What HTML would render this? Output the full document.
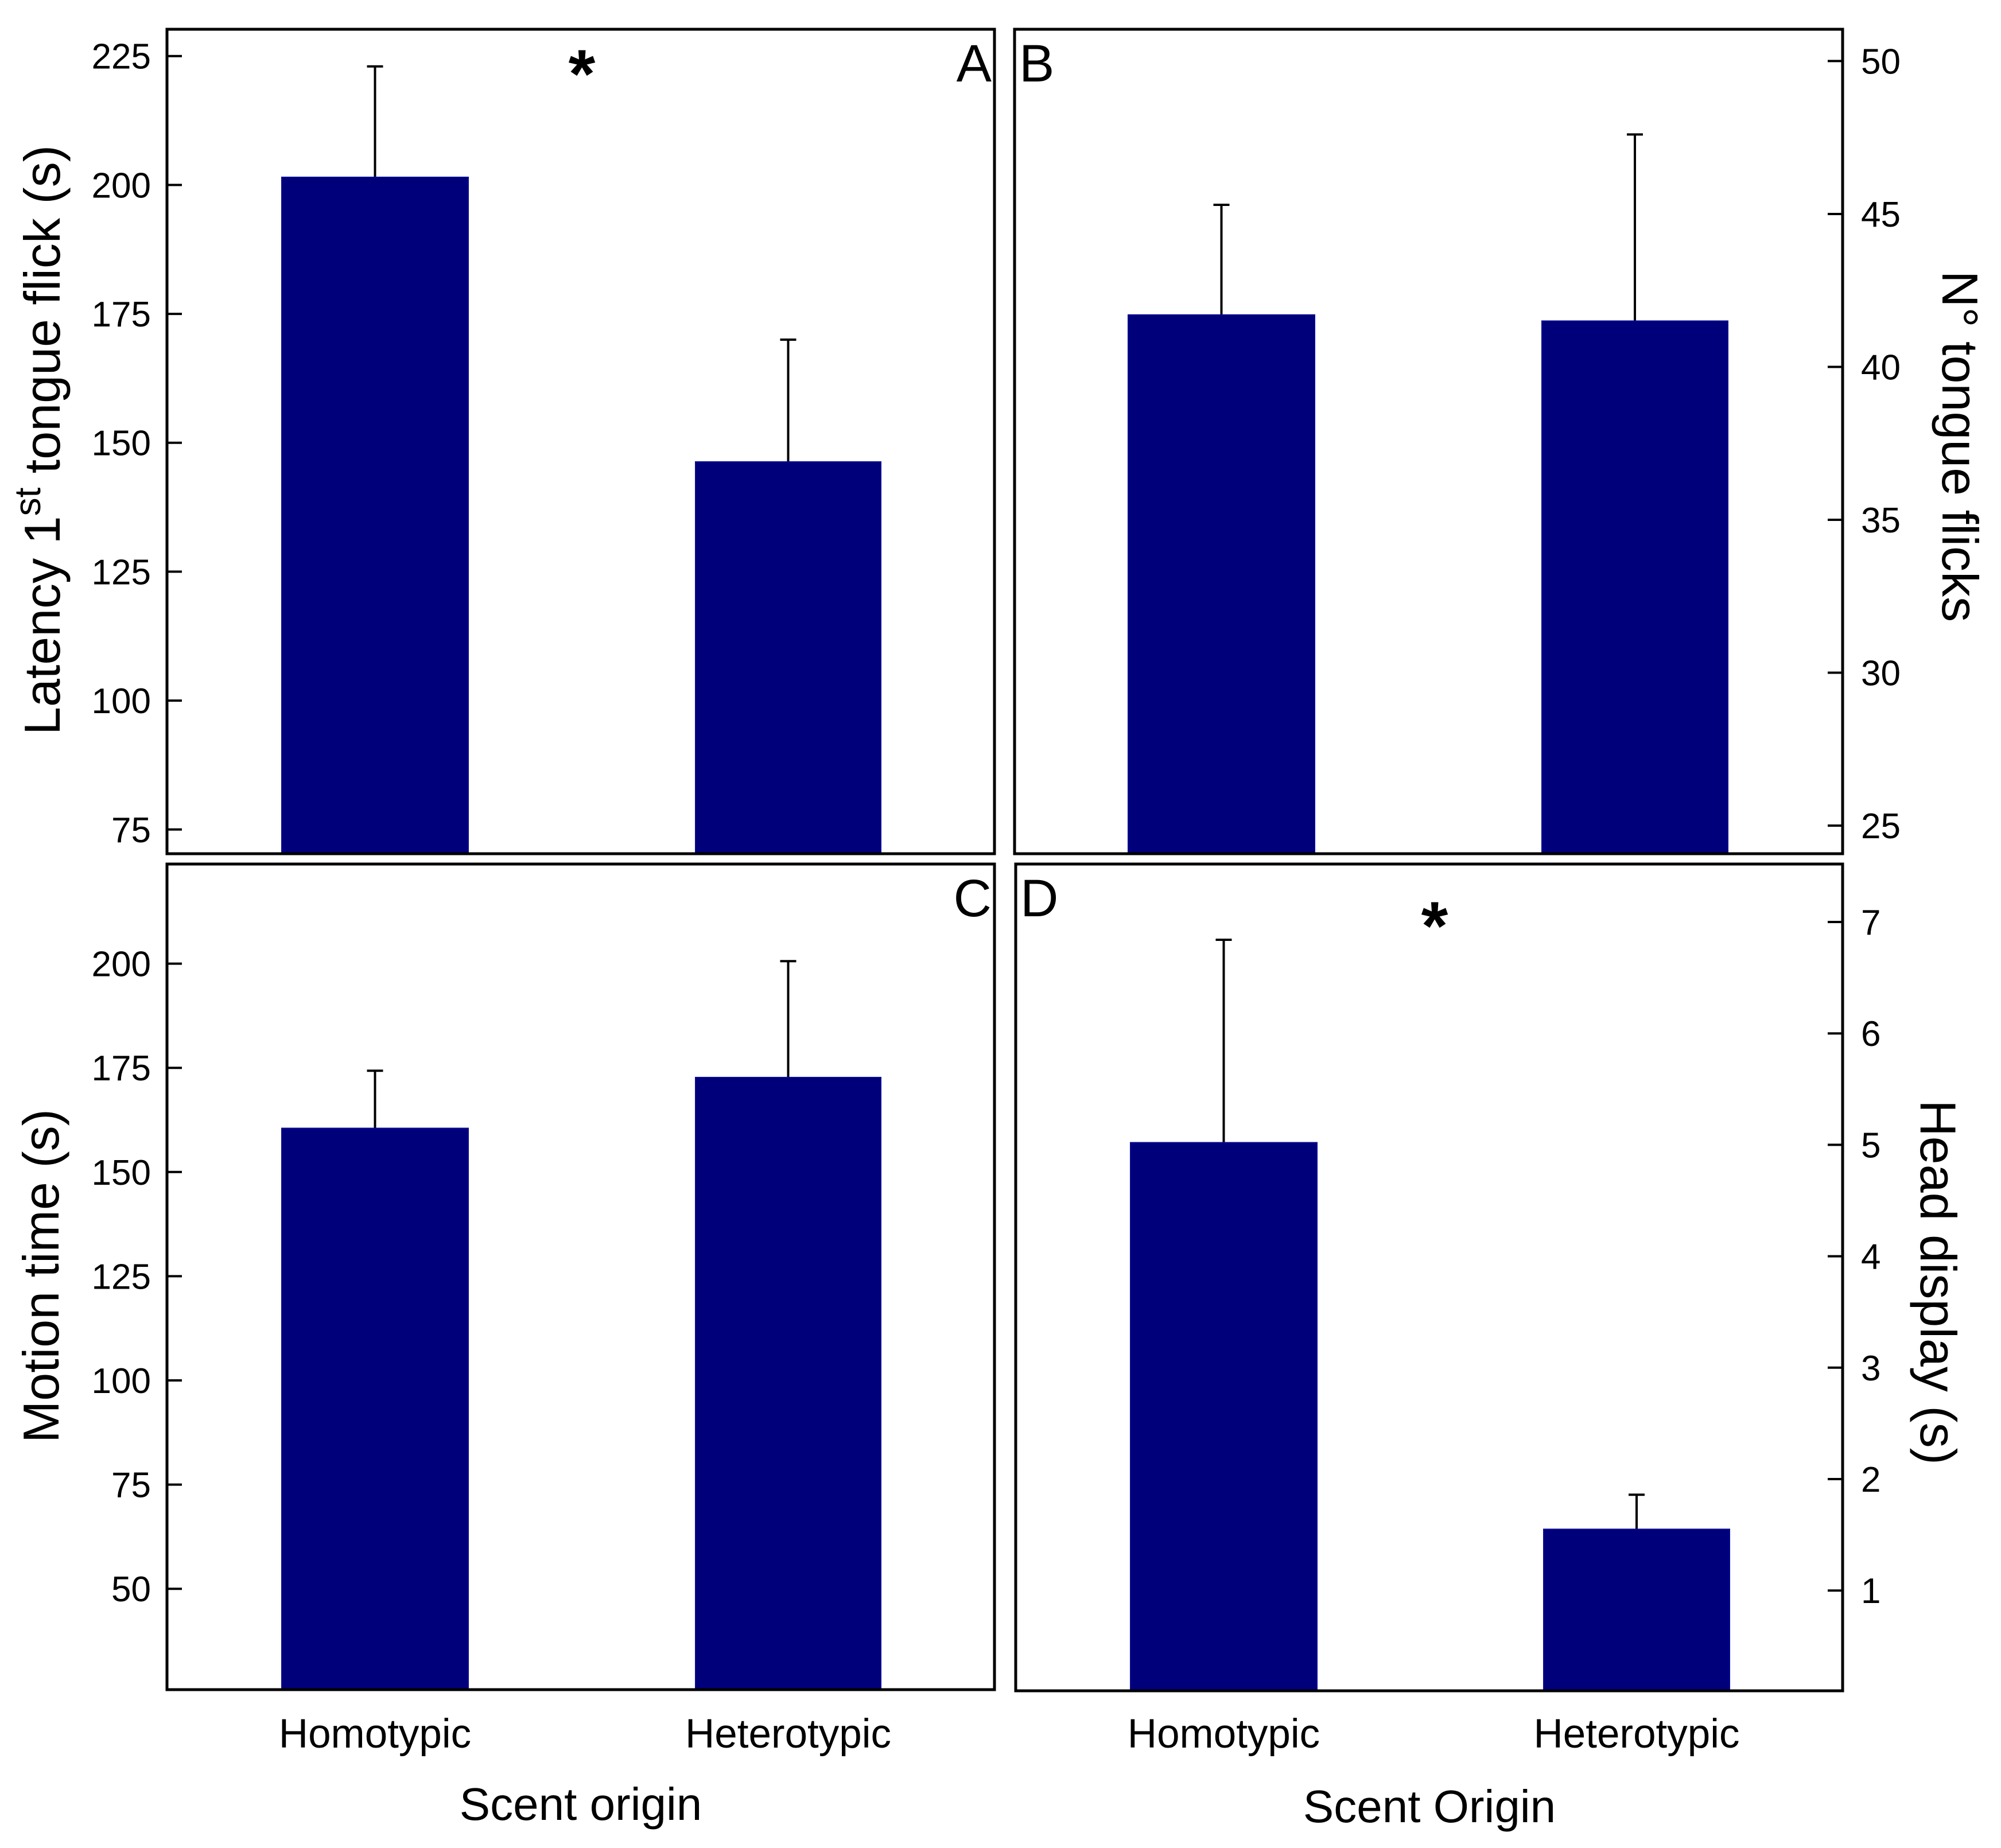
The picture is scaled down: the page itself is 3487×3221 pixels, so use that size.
<!DOCTYPE html>
<html><head><meta charset="utf-8"><style>
html,body{margin:0;padding:0;background:#fff;}
svg{display:block;font-family:"Liberation Sans",Arial,sans-serif;}
</style></head><body>
<svg id="fig" width="3487" height="3221" viewBox="0 0 3487 3221" xmlns="http://www.w3.org/2000/svg"></svg>
<script>
const categories = ["Homotypic","Heterotypic"];
const latencyMeans = [201.5, 146.3];
const latencyErr = [223, 170];
const flicksMeans = [41.7, 41.5];
const flicksErr = [45.3, 47.6];
const motionMeans = [160.5, 172.7];
const motionErr = [174.3, 200.6];
const headMeans = [5.02, 1.55];
const headErr = [6.84, 1.86];
const latencyTicks = [75,100,125,150,175,200,225];
const flicksTicks = [25,30,35,40,45,50];
const motionTicks = [50,75,100,125,150,175,200];
const headTicks = [1,2,3,4,5,6,7];

const NS="http://www.w3.org/2000/svg";
const svg=document.getElementById('fig');
function mk(tag,attrs,parent){const e=document.createElementNS(NS,tag);for(const k in attrs)e.setAttribute(k,attrs[k]);(parent||svg).appendChild(e);return e;}

const panels=[
 {id:'a',x0:291,x1:1733,y0:51,y1:1488,dmin:70.3,dmax:230.2,side:'left',means:latencyMeans,err:latencyErr,ticks:latencyTicks,letter:'A',lx:1728,lanchor:'end',ly:142,star:[1014,170],title:['Latency 1','st',' tongue flick (s)'],tx:104,ty:767,bars:[491,816,1212,1535]},
 {id:'b',x0:1768,x1:3211,y0:51,y1:1488,dmin:24.08,dmax:51.04,side:'right',means:flicksMeans,err:flicksErr,ticks:flicksTicks,letter:'B',lx:1776,lanchor:'start',ly:142,title:['N° tongue flicks'],tx:3385,ty:778,bars:[1966,2291,2687,3011]},
 {id:'c',x0:291,x1:1733,y0:1506,y1:2945,dmin:25.8,dmax:223.9,side:'left',means:motionMeans,err:motionErr,ticks:motionTicks,letter:'C',lx:1728,lanchor:'end',ly:1597,title:['Motion time (s)'],tx:102,ty:2224,bars:[491,816,1212,1535]},
 {id:'d',x0:1770,x1:3211,y0:1506,y1:2947,dmin:0.1,dmax:7.52,side:'right',means:headMeans,err:headErr,ticks:headTicks,letter:'D',lx:1778,lanchor:'start',ly:1597,star:[2500,1655],title:['Head display (s)'],tx:3347,ty:2235,bars:[1970,2295,2690,3014]}
];

panels.forEach(p=>{
 const g=mk('g',{});
 
 
 const y=v=>p.y1-(v-p.dmin)/(p.dmax-p.dmin)*(p.y1-p.y0);
 categories.forEach((c,i)=>{
  const bx0=p.bars[i*2],bx1=p.bars[i*2+1],cx=(bx0+bx1)/2;
  const ey=y(p.err[i]);
  const el=mk('line',{x1:cx,x2:cx,y1:y(p.means[i]),y2:ey,stroke:'#000','stroke-width':4},g);
  
  
  const cap=mk('line',{x1:cx-14,x2:cx+14,y1:ey,y2:ey,stroke:'#000','stroke-width':4},g);
  
  
  const r=mk('rect',{x:bx0,y:y(p.means[i]),width:bx1-bx0,height:p.y1-y(p.means[i]),fill:'#00007b',stroke:'#0a0a90','stroke-width':2},g);
  
  
 });
 const fr=mk('rect',{x:p.x0,y:p.y0,width:p.x1-p.x0,height:p.y1-p.y0,fill:'none',stroke:'#000','stroke-width':5},g);
 
 
 p.ticks.forEach(t=>{
  const ty=y(t);
  const ax=p.side==='left'?p.x0:p.x1, dir=p.side==='left'?1:-1;
  const tl=mk('line',{x1:ax,x2:ax+dir*26,y1:ty,y2:ty,stroke:'#000','stroke-width':4},g);
  
  
  const tx=mk('text',{x:p.side==='left'?ax-28:ax+32,y:ty+22,'font-size':62,'text-anchor':p.side==='left'?'end':'start',fill:'#000'},g);
  tx.textContent=t;
  
  
 });
 const lt=mk('text',{x:p.lx,y:p.ly,'font-size':92,'text-anchor':p.lanchor,fill:'#000'},g);
 lt.textContent=p.letter;
 
 
 if(p.star){
  const st=mk('text',{x:p.star[0],y:p.star[1],'font-size':120,'text-anchor':'middle',fill:'#000','font-weight':'bold'},g);
  st.textContent='*';
  
  
 }
 const rot=p.side==='left'?-90:90;
 const tt=mk('text',{x:p.tx,y:p.ty,'font-size':88,'text-anchor':'middle',fill:'#000',transform:`rotate(${rot} ${p.tx} ${p.ty})`},g);
 
 
 if(p.title.length===3){
  const s1=mk('tspan',{},tt);s1.textContent=p.title[0];
  const s2=mk('tspan',{dy:-34,'font-size':64},tt);s2.textContent=p.title[1];
  const s3=mk('tspan',{dy:34},tt);s3.textContent=p.title[2];
 } else tt.textContent=p.title[0];
 if(p.id==='c'||p.id==='d'){
  categories.forEach((c,i)=>{
   const cx=(p.bars[i*2]+p.bars[i*2+1])/2;
   const xl=mk('text',{x:cx,y:3046,'font-size':71,'text-anchor':'middle',fill:'#000'},g);
   xl.textContent=c;
   
   
  });
 }
});
const xt1=mk('text',{x:1012,y:3172,'font-size':80,'text-anchor':'middle',fill:'#000'});
xt1.textContent='Scent origin';


const xt2=mk('text',{x:2491,y:3176,'font-size':80,'text-anchor':'middle',fill:'#000'});
xt2.textContent='Scent Origin';


</script>
</body></html>
